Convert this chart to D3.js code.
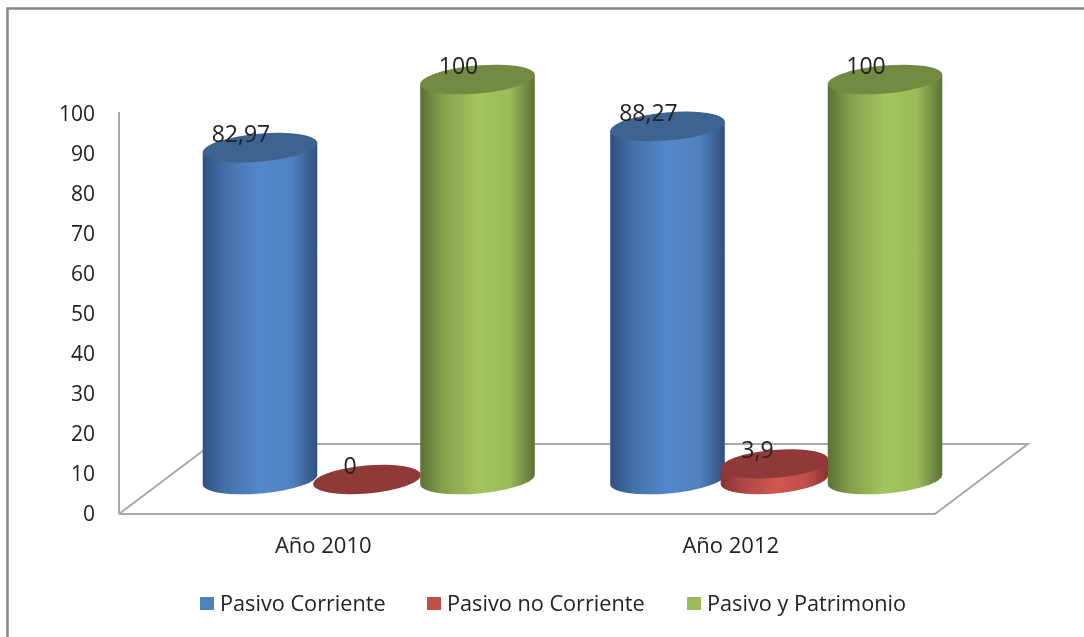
<!DOCTYPE html>
<html><head><meta charset="utf-8">
<script src="https://cdn.jsdelivr.net/npm/d3@7"></script>
<style>html,body{margin:0;padding:0;background:#fff;overflow:hidden}svg{display:block;filter:blur(.5px)}</style>
</head><body><div id="c"></div>
<script>
const categories=["Año 2010","Año 2012"];
const seriesNames=["Pasivo Corriente","Pasivo no Corriente","Pasivo y Patrimonio"];
const pasivoCorriente=[82.97,88.27];
const pasivoNoCorriente=[0,3.9];
const pasivoPatrimonio=[100,100];
const labelsCorriente=["82,97","88,27"];
const labelsNoCorriente=["0","3,9"];
const labelsPatrimonio=["100","100"];
const tickValues=[0,10,20,30,40,50,60,70,80,90,100];
const palette=[
 {base:"#4f81bd",light:"#5488cc",dark:"#2f5080",top:"#3d6391"},
 {base:"#c0504d",light:"#d0574f",dark:"#8a3432",top:"#8f3a38"},
 {base:"#9bbb59",light:"#a4c45e",dark:"#5c7134",top:"#738a42"}];
const W=1084,H=637,font="Open Sans",ink="#222";
const svg=d3.select("#c").append("svg").attr("width",W).attr("height",H);
const defs=svg.append("defs");
palette.forEach((p,i)=>{
 const g=defs.append("linearGradient").attr("id","g"+i);
 [[0,p.dark],[.2,d3.interpolateRgb(p.dark,p.base)(.65)],[.5,p.light],[.78,p.base],[1,p.dark]]
  .forEach(s=>g.append("stop").attr("offset",s[0]).attr("stop-color",s[1]));
});
svg.append("path").attr("d",`M7.5,${H}V8.5H${W}`).attr("fill","none").attr("stroke","#888").attr("stroke-width",2.5);
const y=d3.scaleLinear().domain([0,100]).range([512.5,112.5]);
const x=d3.scaleBand().domain(categories).range([120,935]);
const gridCol="#aaaaaa";
svg.append("path").attr("d",d3.line()([[119,514],[935,514],[1028,444],[212,444],[119,514]]))
 .attr("fill","none").attr("stroke",gridCol).attr("stroke-width",2);
svg.append("line").attr("x1",119).attr("x2",119).attr("y1",112).attr("y2",514).attr("stroke",gridCol).attr("stroke-width",2);
const axis=d3.axisLeft(y).tickValues(tickValues).tickSize(0).tickPadding(0);
const ax=svg.append("g").attr("transform","translate(95,1)").call(axis);
ax.select(".domain").remove();
ax.selectAll("text").attr("font-family",font).attr("font-size",21).attr("fill",ink);
categories.forEach(c=>svg.append("text").attr("x",x(c)+x.bandwidth()/2-0.5).attr("y",552.5).attr("text-anchor","middle")
 .attr("font-family",font).attr("font-size",22).attr("fill",ink).text(c));
const depthY=-33, rx=57.5, rxFlat=54, ry=14, tilt=-5;
const seriesOffset=[-63.75,43.25,153.75];
const ser=[pasivoCorriente,pasivoNoCorriente,pasivoPatrimonio];
const lab=[labelsCorriente,labelsNoCorriente,labelsPatrimonio];
const centers=(ci,si)=>x(categories[ci])+x.bandwidth()/2+seriesOffset[si];
function cyl(ci,si){
 const v=ser[si][ci],cx=centers(ci,si),yb=y(0)+depthY,yt=y(v)+depthY;
 const R=si==1?rxFlat:rx, dy=R*Math.sin(-tilt*Math.PI/180), dx=R*Math.cos(tilt*Math.PI/180);
 const g=svg.append("g");
 if(v>0){
  g.append("path").attr("d",`M${cx-dx},${yt+dy}L${cx+dx},${yt-dy}L${cx+dx},${yb-dy}A${R},${ry} ${tilt} 0 1 ${cx-dx},${yb+dy}Z`)
   .attr("fill",`url(#g${si})`);
 }
 g.append("ellipse").attr("cx",cx).attr("cy",yt).attr("rx",R).attr("ry",ry)
  .attr("transform",`rotate(${tilt} ${cx} ${yt})`).attr("fill",palette[si].top);
}
const labelDx=[-19,-17,-19];
[[0,0],[1,0],[2,0],[0,1],[1,1],[2,1]].forEach(([s,c])=>cyl(c,s));
[0,1].forEach(c=>[0,1,2].forEach(s=>{
 svg.append("text").attr("x",centers(c,s)+labelDx[s]).attr("y",y(ser[s][c])+depthY-5.5)
  .attr("text-anchor","middle").attr("font-family",font).attr("font-size",23).attr("fill",ink).text(lab[s][c]);
}));
const legX=[200,427,687];
seriesNames.forEach((n,i)=>{
 svg.append("rect").attr("x",legX[i]).attr("y",597).attr("width",14).attr("height",13).attr("fill",palette[i].base);
 svg.append("text").attr("x",legX[i]+20).attr("y",611).attr("font-family",font).attr("font-size",21.7).attr("fill",ink).text(n);
});
</script></body></html>
